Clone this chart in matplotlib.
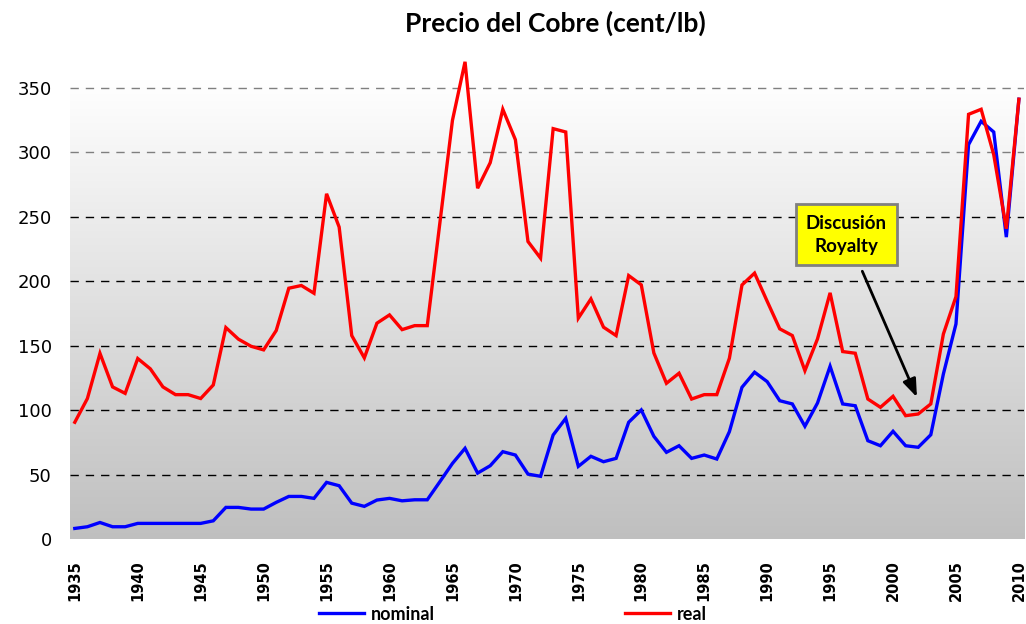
"""
Precio del Cobre (cent/lb): nominal vs real, 1935-2010.
"""
import matplotlib
matplotlib.use("Agg")
import matplotlib.pyplot as plt
import numpy as np

years = list(range(1935, 2011))

nominal = [8.3, 9.6, 12.9, 9.6, 9.6, 12.2, 12.2, 12.2, 12.2, 12.2,      # 1935-44
           12.2, 14.2, 24.6, 24.6, 23.3, 23.3, 28.5, 33.1, 33.1, 31.6,  # 1945-54
           44.0, 41.4, 27.9, 25.4, 30.3, 31.6, 29.7, 30.5, 30.5, 44.5,  # 1955-64
           58.7, 70.4, 51.2, 56.9, 67.8, 65.2, 50.4, 48.7, 80.7, 93.6,  # 1965-74
           56.4, 64.2, 60.0, 62.6, 90.6, 100.1, 79.7, 67.3, 72.4, 62.6, # 1975-84
           65.2, 62.1, 83.3, 117.7, 129.4, 122.1, 107.3, 104.8, 87.5, 105.5,  # 1985-94
           134.0, 104.8, 103.4, 76.3, 72.4, 83.6, 72.4, 71.2, 80.9, 128.0,   # 1995-2004
           166.8, 305.8, 323.9, 315.6, 234.1, 341.0]                          # 2005-10

real = [90.6, 109, 144, 118, 113, 140, 132, 118, 112, 112,               # 1935-44
        109, 119.5, 164, 155, 149.5, 146.7, 161.7, 194.5, 196.6, 190.6,  # 1945-54
        267.7, 241.9, 157.8, 140.5, 167.4, 173.8, 162.4, 165.5, 165.5, 245,  # 1955-64
        324.6, 370, 272, 291.8, 333.2, 309.6, 230.7, 217.8, 318.2, 315.6,    # 1965-74
        171.3, 186.2, 164.3, 157.8, 204.3, 197.1, 144.3, 120.8, 128.6, 108.6,  # 1975-84
        112, 112, 140.2, 197, 206.2, 184.4, 163, 157.8, 130.6, 155.2,         # 1985-94
        190.9, 145.4, 144.1, 108.6, 102.2, 110.7, 95.7, 97, 104.8, 159,       # 1995-2004
        188, 329.3, 333.2, 298, 240.6, 341]                                   # 2005-10

yticks = [0, 50, 100, 150, 200, 250, 300, 350]
xticks = list(range(1935, 2011, 5))

fig = plt.figure(figsize=(10.26, 6.24), dpi=100)
ax = fig.add_axes([0.068, 0.136, 0.93, 0.736])
xlim = (1934.6, 2010.4)
ylim = (0, 356)
ax.set_xlim(*xlim)
ax.set_ylim(*ylim)

# fondo degradado blanco -> gris
grad = np.linspace(1.0, 0.75, 256).reshape(-1, 1)
ax.imshow(np.dstack([grad] * 3), extent=[*xlim, *ylim], aspect="auto",
          origin="upper", zorder=0)

for t in yticks[1:]:
    col = "#7f7f7f" if t >= 300 else "black"
    ax.axhline(t, color=col, lw=1.0, ls=(0, (6, 5)), zorder=1)

ax.plot(years, nominal, color="#0000ff", lw=2.4, label="nominal", zorder=3,
        clip_on=False, solid_joinstyle="miter")
ax.plot(years, real, color="#ff0000", lw=2.4, label="real", zorder=4,
        clip_on=False, solid_joinstyle="miter")

for s in ax.spines.values():
    s.set_visible(False)
ax.set_yticks(yticks)
ax.set_xticks(xticks)
ax.tick_params(length=0)
ax.tick_params(axis="y", labelsize=13, pad=13)
ax.tick_params(axis="x", pad=15)
for lab in ax.get_xticklabels():
    lab.set_rotation(90)
    lab.set_fontweight("bold")
    lab.set_fontsize(10.5)

fig.text(0.541, 0.962, "Precio del Cobre (cent/lb)", ha="center", va="center",
         fontsize=19, fontweight="bold", family="Lato")

ax.annotate("Discusión\nRoyalty", xy=(2001.9, 110), xytext=(1996.3, 236),
            ha="center", va="center", fontsize=13.5, fontweight="bold",
            family="Lato", linespacing=1.45,
            bbox=dict(boxstyle="square,pad=0.55", fc="#ffff00", ec="#808080", lw=2),
            arrowprops=dict(arrowstyle="-|>,head_length=0.8,head_width=0.3",
                            color="black", lw=2, shrinkA=4, shrinkB=0),
            zorder=6)

leg = fig.legend(loc="center", bbox_to_anchor=(0.5, 0.016), ncol=2, frameon=False,
                 handlelength=2.5, columnspacing=10.5, handletextpad=0.4,
                 prop=dict(family="Lato", weight="bold", size=13))

fig.savefig("out.png", dpi=100)
